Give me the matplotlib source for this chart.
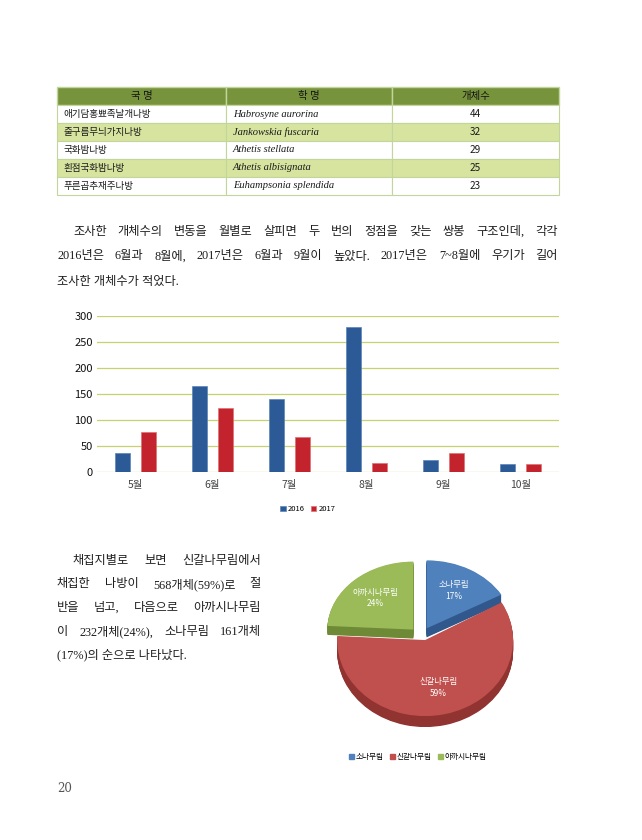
import numpy as np
import matplotlib
matplotlib.use('Agg')
import matplotlib.pyplot as plt
from matplotlib.patches import Patch
from matplotlib.table import Table

plt.rcParams['font.family'] = ['Noto Sans CJK KR', 'DejaVu Sans']

W, H = 642, 840

# table
table_header = ['국 명', '학 명', '개체수']
korean_names = ['애기담홍뾰족날개나방', '줄구름무늬가지나방', '국화밤나방',
                '흰점국화밤나방', '푸른곱추재주나방']
sci_names = ['Habrosyne aurorina', 'Jankowskia fuscaria', 'Athetis stellata',
             'Athetis albisignata', 'Euhampsonia splendida']
counts = [44, 32, 29, 25, 23]

# monthly bar chart
months = ['5월', '6월', '7월', '8월', '9월', '10월']
n2016 = [36, 165, 140, 279, 22, 14]
n2017 = [77, 122, 67, 16, 36, 15]

# pie chart
forest_names = ['소나무림', '신갈나무림', '아까시나무림']
forest_counts = [161, 568, 232]

para1 = ['조사한 개체수의 변동을 월별로 살피면 두 번의 정점을 갖는 쌍봉 구조인데, 각각',
         '2016년은 6월과 8월에, 2017년은 6월과 9월이 높았다. 2017년은 7~8월에 우기가 길어',
         '조사한 개체수가 적었다.']
para2 = ['채집지별로 보면 신갈나무림에서',
         '채집한 나방이 568개체(59%)로 절',
         '반을 넘고, 다음으로 아까시나무림',
         '이 232개체(24%), 소나무림 161개체',
         '(17%)의 순으로 나타났다.']


def box(left, top, right, bottom):
    return [left / W, 1 - bottom / H, (right - left) / W, (bottom - top) / H]


fig = plt.figure(figsize=(W / 100, H / 100), dpi=100)
page = fig.add_axes([0, 0, 1, 1])
page.set_xlim(0, W)
page.set_ylim(H, 0)
page.axis('off')
renderer = fig.canvas.get_renderer()

# ---- table ----
tax = fig.add_axes(box(57, 87, 559, 195))
tax.axis('off')
tbl = Table(tax, bbox=[0, 0, 1, 1])
tbl.auto_set_font_size(False)
col_w = [169, 166, 167]
edge = '#c2d69b'
for c, lab in enumerate(table_header):
    cell = tbl.add_cell(0, c, col_w[c], 1, text=lab, loc='center',
                        facecolor='#77933c', edgecolor=edge)
    cell.get_text().set(fontsize=7.5, color='#151515')
for r in range(len(korean_names)):
    fc = '#d7e4a0' if r % 2 == 1 else 'white'
    row = [korean_names[r], sci_names[r], str(counts[r])]
    for c in range(3):
        cell = tbl.add_cell(r + 1, c, col_w[c], 1, text=row[c],
                            loc='center' if c == 2 else 'left',
                            facecolor=fc, edgecolor=edge)
        cell.PAD = 0.04
        cell.set_linewidth(0.8)
        t = cell.get_text()
        t.set(fontsize=6.9, color='#1a1a1a')
        if c == 1:
            t.set(family='Liberation Serif', style='italic', fontsize=7.6)
        if c == 2:
            t.set(fontsize=7.2)
tax.add_table(tbl)

# ---- paragraphs ----
ptext = dict(family=['Liberation Serif', 'Noto Sans CJK KR'], fontsize=8.8,
             color='#1e1e1e')


def put_line(text, x0, x1, y, justify=True):
    words = text.split(' ')
    if not justify or len(words) == 1:
        page.text(x0, y, text, ha='left', va='center', **ptext)
        return
    arts = [page.text(0, y, w, ha='left', va='center', **ptext) for w in words]
    widths = [a.get_window_extent(renderer).width for a in arts]
    gap = (x1 - x0 - sum(widths)) / (len(words) - 1)
    x = x0
    for a, w in zip(arts, widths):
        a.set_x(x)
        x += w + gap


for i, line in enumerate(para1):
    x0 = 73 if i == 0 else 57
    put_line(line, x0, 558, 231.5 + 25 * i, justify=i < len(para1) - 1)

for i, line in enumerate(para2):
    x0 = 73 if i == 0 else 57
    put_line(line, x0, 261, 561 + 23.5 * i, justify=i < len(para2) - 1)

# ---- bar chart ----
bax = fig.add_axes(box(97, 315.7, 559, 471.7))
x = np.arange(len(months))
bw = 0.195
bax.bar(x - 0.165, n2016, bw, color='#2c5a97', edgecolor='#5b84ba', lw=0.5,
        label='2016', zorder=3)
bax.bar(x + 0.165, n2017, bw, color='#c3232c', edgecolor='#e07070', lw=0.5,
        label='2017', zorder=3)
bax.set_xlim(-0.5, len(months) - 0.5)
bax.set_ylim(0, 300)
bax.set_yticks(range(0, 301, 50))
bax.set_xticks(x, months)
bax.grid(axis='y', color='#c8d070', lw=0.9)
bax.set_axisbelow(True)
for s in bax.spines.values():
    s.set_visible(False)
bax.tick_params(length=0)
bax.tick_params(axis='y', pad=3, labelsize=8, labelcolor='#111111')
bax.tick_params(axis='x', pad=6, labelsize=7.5, labelcolor='#444444')
bax.legend(loc='center', bbox_to_anchor=(308 / W, 1 - 509 / H),
           bbox_transform=fig.transFigure, ncol=2, frameon=False, fontsize=5.5,
           handlelength=0.7, handleheight=0.7, handletextpad=0.3,
           columnspacing=0.8)

# ---- 3d-looking pie ----
# the far slices (blue, green) are seen flatter than the near one (red)
top_colors = ['#4f81bd', '#c0504d', '#9bbb59']
side_colors = ['#30588c', '#913431', '#6e8a36']
front = [False, True, False]
nlayer = 14
total = sum(forest_counts)


def pie_axes(cx, cy, rx, ry):
    return fig.add_axes(box(cx - 1.3 * rx, cy - 1.3 * ry, cx + 1.3 * rx, cy + 1.3 * ry))


def draw_pie(ax, show, explode, depth_px, ry):
    depth = depth_px / ry
    for k in range(nlayer, 0, -1):
        cols = [c if s else 'none' for c, s in zip(side_colors, show)]
        ax.pie(forest_counts, colors=cols, explode=explode, startangle=90,
               counterclock=False, center=(0, -depth * k / nlayer),
               wedgeprops=dict(lw=0))
    cols = [c if s else 'none' for c, s in zip(top_colors, show)]
    wed, _ = ax.pie(forest_counts, colors=cols, explode=explode, startangle=90,
                    counterclock=False, wedgeprops=dict(lw=0))
    for w, name, n, s in zip(wed, forest_names, forest_counts, show):
        if not s:
            continue
        ang = np.deg2rad((w.theta1 + w.theta2) / 2)
        px = w.center[0] + 0.64 * np.cos(ang)
        py = w.center[1] + 0.64 * np.sin(ang)
        ax.text(px, py, f'{name}\n{100 * n / total:.0f}%', ha='center',
                va='center', color='white', fontsize=6, linespacing=1.4)
    ax.set_aspect('auto')
    ax.set_xlim(-1.3, 1.3)
    ax.set_ylim(-1.3, 1.3)
    ax.axis('off')


back_ax = pie_axes(421, 636, 86, 68)
draw_pie(back_ax, [not f for f in front], [0.13, 0, 0.13], 9, 68)
front_ax = pie_axes(424, 636, 88, 76)
draw_pie(front_ax, front, [0, 0.055, 0], 11, 76)

fig.legend(handles=[Patch(color=c) for c in top_colors], labels=forest_names,
           loc='center', bbox_to_anchor=(418 / W, 1 - 757 / H), ncol=3,
           frameon=False, fontsize=5.5, handlelength=0.6, handleheight=0.6,
           handletextpad=0.3, columnspacing=0.8)

# page number
page.text(57, 788, '20', family='DejaVu Serif', fontsize=8.5, color='#555555',
          va='center')

fig.savefig('out.png', dpi=100)
